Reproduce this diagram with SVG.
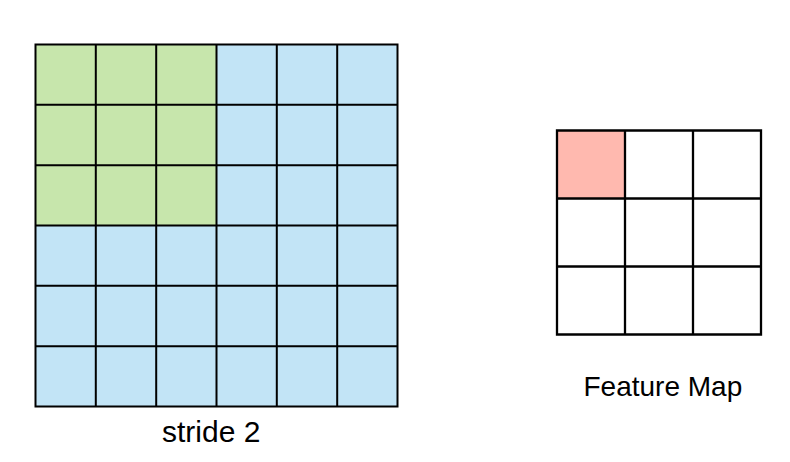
<svg xmlns="http://www.w3.org/2000/svg" width="790" height="462" viewBox="0 0 790 462">
<style>
.grid{fill:none;stroke:#000;stroke-width:2;stroke-linecap:square}
.lbl{font-family:"Liberation Sans",Arial,sans-serif;font-size:28px;fill:#000}
</style>
<rect width="790" height="462" fill="#fff"/>
<g id="input-grid">
<rect x="35.5" y="44.5" width="362" height="362" fill="#C2E4F6"/>
<rect x="35.5" y="44.5" width="181" height="181" fill="#C7E6AC"/>
<path class="grid" d="M35.5 44.5H397.5V406.5H35.5Z M95.8 44.5V406.5 M156.2 44.5V406.5 M216.5 44.5V406.5 M276.8 44.5V406.5 M337.2 44.5V406.5 M35.5 104.8H397.5 M35.5 165.2H397.5 M35.5 225.5H397.5 M35.5 285.8H397.5 M35.5 346.2H397.5"/>
</g>
<g id="feature-map">
<rect x="557" y="130.5" width="68" height="68" fill="#FFB9AF"/>
<path class="grid" style="stroke-width:2.3" d="M557 130.5H761V334.5H557Z M625 130.5V334.5 M693 130.5V334.5 M557 198.5H761 M557 266.5H761"/>
</g>
<g id="label-stride">
<text class="lbl" x="162" y="441.5" style="font-size:30px">stride 2</text>
</g>
<g id="label-feature-map">
<text class="lbl" x="583.5" y="395.7">Feature Map</text>
</g>
</svg>
